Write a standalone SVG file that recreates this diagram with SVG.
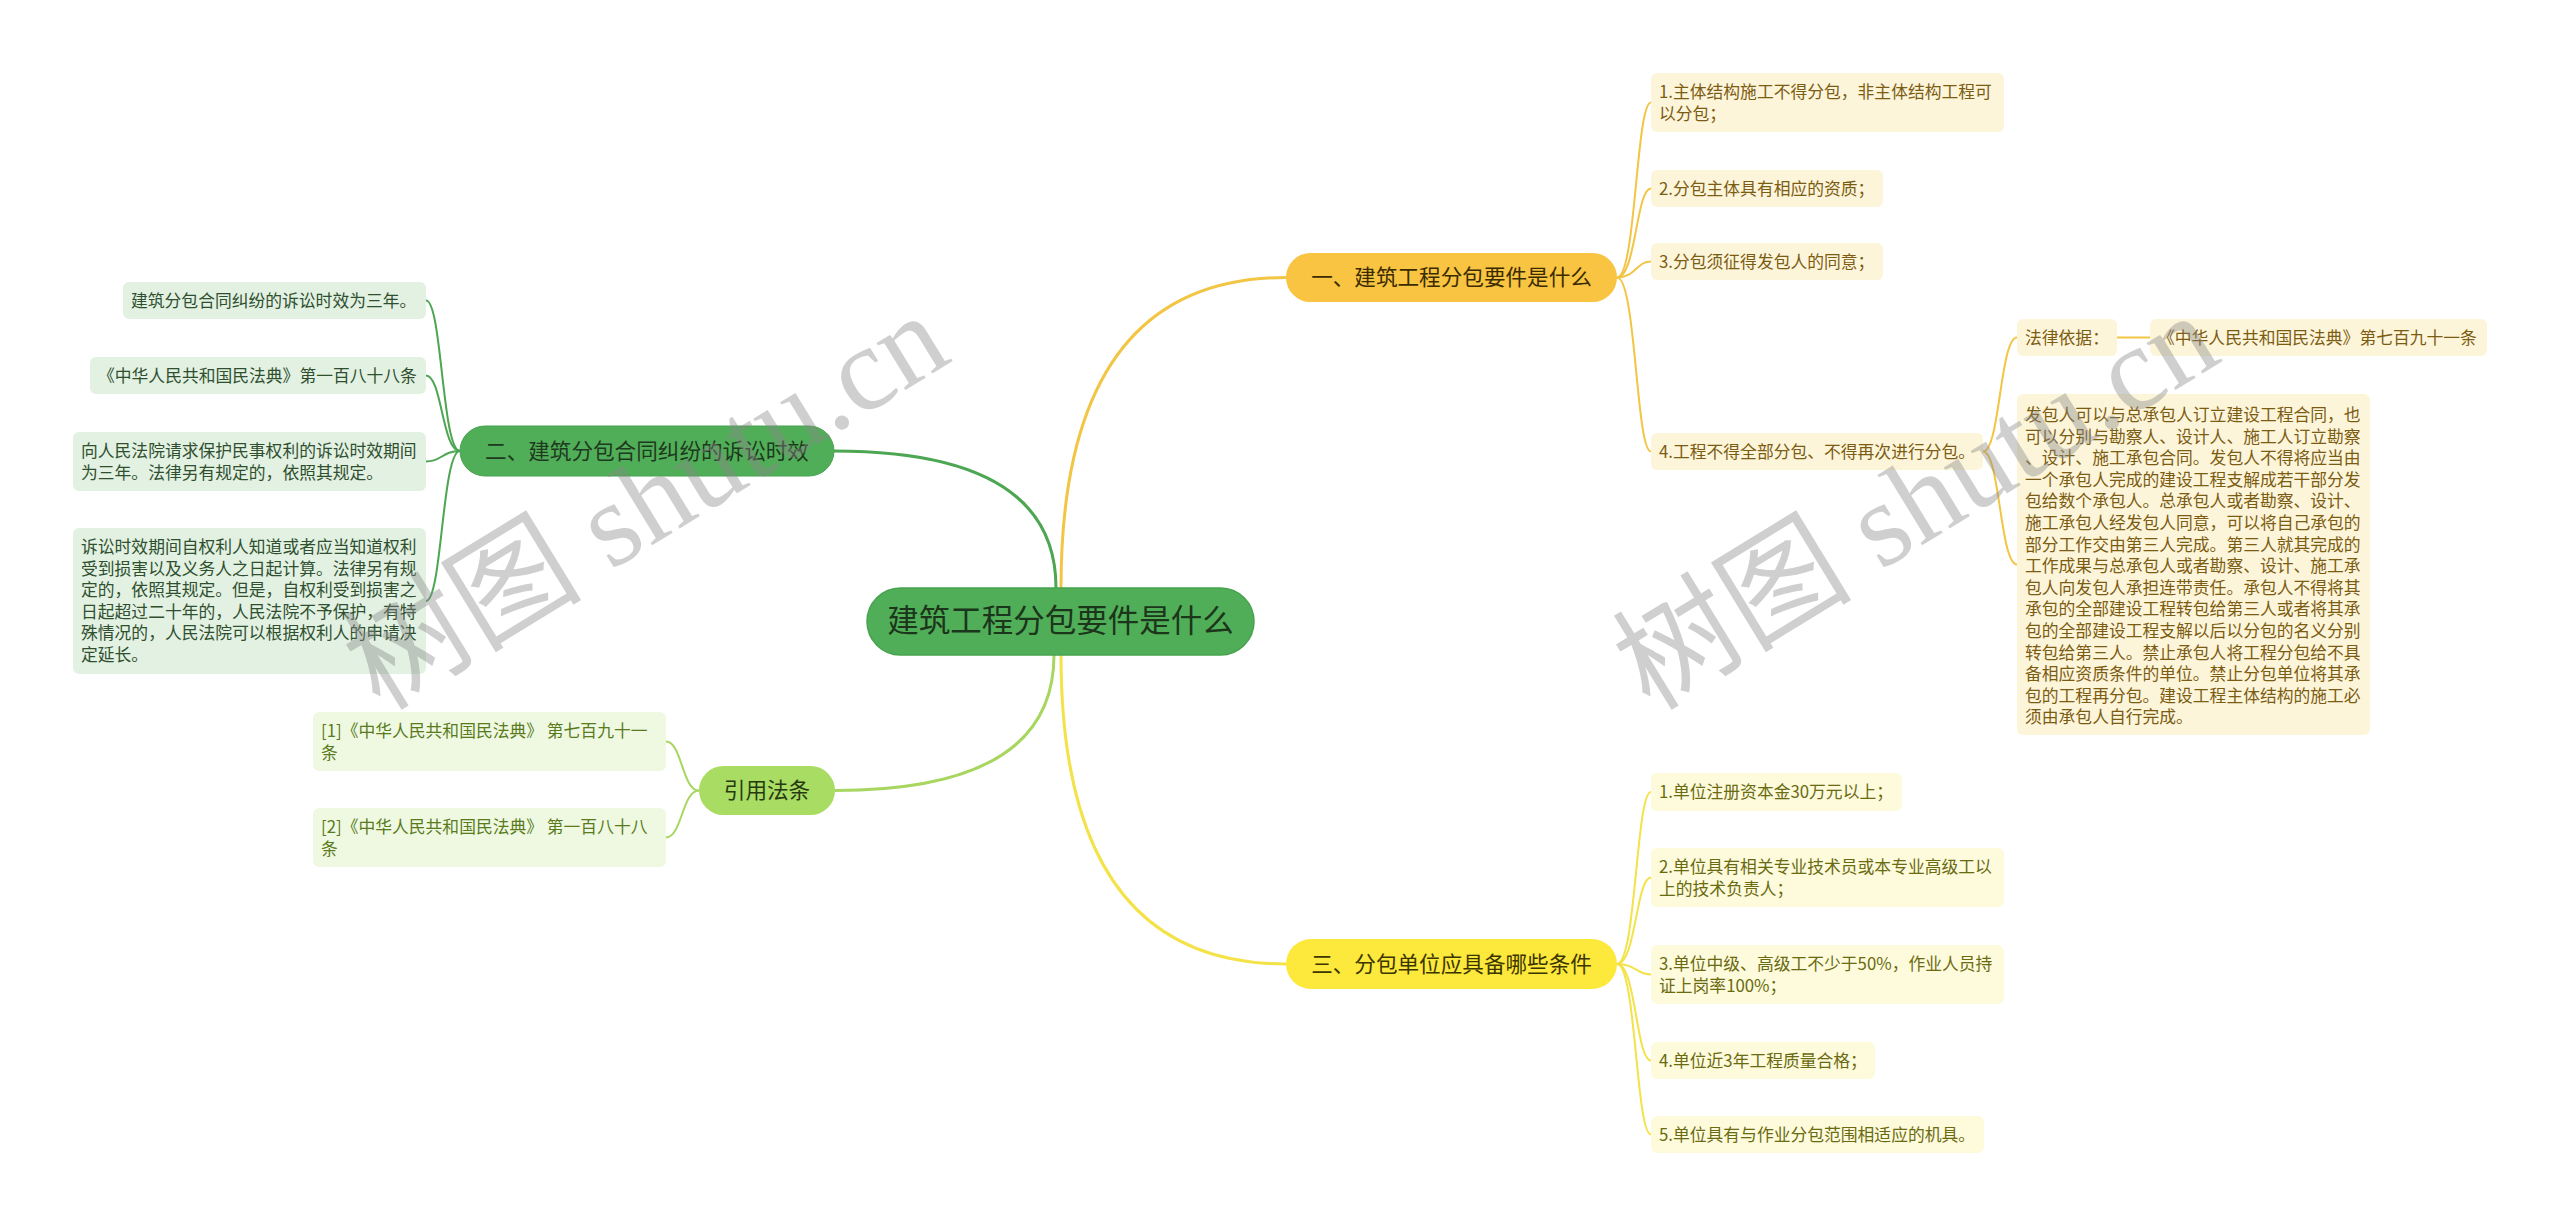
<svg xmlns="http://www.w3.org/2000/svg" width="2560" height="1227" viewBox="0 0 2560 1227">
<style>
text{font-family:"Noto Sans CJK SC","Liberation Sans",sans-serif;}
.t{font-size:16.8px;}
.n{font-size:21.6px;text-anchor:middle;}
.c{fill:none;stroke-width:2;}
.m{fill:none;stroke-width:3;}
.gold{stroke:#f2c545;} .yel{stroke:#f3e248;} .grn{stroke:#4ca652;} .lime{stroke:#a8d660;}
.bg{fill:#fdf5da;} .by{fill:#fdfbdc;} .bgr{fill:#e2f1e2;} .bl{fill:#eff9e1;}
.tg{fill:#7b5c12;} .ty{fill:#6a6a10;} .tgr{fill:#2f4f2f;} .tl{fill:#5a7b1d;}
.wm{font-family:"Liberation Serif","Noto Sans CJK SC",serif;font-size:120px;fill:#888;opacity:0.4;}
</style>
<rect width="2560" height="1227" fill="#ffffff"/>
<g id="connectors">
<path class="m gold" d="M1061 588 Q1061 277.5 1286 277.5"/>
<path class="m grn" d="M1056 588 Q1056 451 834 451"/>
<path class="m lime" d="M1054 655 Q1054 790.5 835 790.5"/>
<path class="m yel" d="M1061 655 Q1061 964 1286 964"/>
<path class="c gold" d="M1617 277.5 C1636 277.5 1636 102.5 1651 102.5"/>
<path class="c gold" d="M1617 277.5 C1636 277.5 1636 188.5 1651 188.5"/>
<path class="c gold" d="M1617 277.5 C1636 277.5 1636 261.5 1651 261.5"/>
<path class="c gold" d="M1617 277.5 C1636 277.5 1636 451.5 1651 451.5"/>
<path class="c gold" d="M1983 451.5 C2000 451.5 2000 337.5 2017 337.5"/>
<path class="c gold" d="M1983 451.5 C2000 451.5 2000 564.5 2017 564.5"/>
<path class="c gold" d="M2117 337.5 L2150 337.5"/>
<path class="c yel" d="M1617 964 C1636 964 1636 792 1651 792"/>
<path class="c yel" d="M1617 964 C1636 964 1636 877.5 1651 877.5"/>
<path class="c yel" d="M1617 964 C1636 964 1636 974.5 1651 974.5"/>
<path class="c yel" d="M1617 964 C1636 964 1636 1060.5 1651 1060.5"/>
<path class="c yel" d="M1617 964 C1636 964 1636 1134.5 1651 1134.5"/>
<path class="c grn" d="M460 451 C442 451 442 300.5 426 300.5"/>
<path class="c grn" d="M460 451 C442 451 442 375.5 426 375.5"/>
<path class="c grn" d="M460 451 C442 451 442 461.5 426 461.5"/>
<path class="c grn" d="M460 451 C442 451 442 601 426 601"/>
<path class="c lime" d="M699 790.5 C682 790.5 682 741.5 666 741.5"/>
<path class="c lime" d="M699 790.5 C682 790.5 682 837.5 666 837.5"/>
</g>
<g id="root">
<rect x="867" y="588" width="387" height="67" rx="33.5" fill="#51ae58" stroke="#47a24e" stroke-width="1.5"/>
<text x="1060.5" y="632" font-size="31.5" text-anchor="middle" fill="#1b361b">建筑工程分包要件是什么</text>
</g>
<g id="b1">
<rect x="1286" y="253" width="331" height="49" rx="24.5" fill="#f8c441"/>
<text class="n" x="1451.5" y="285" fill="#3b2c00">一、建筑工程分包要件是什么</text>
</g>
<g id="b1c1"><rect class="bg" x="1651" y="73" width="353" height="59" rx="6"/>
<text class="t tg" x="1659" y="98">1.主体结构施工不得分包，非主体结构工程可</text>
<text class="t tg" x="1659" y="119.6">以分包；</text></g>
<g id="b1c2"><rect class="bg" x="1651" y="170" width="232" height="37" rx="6"/>
<text class="t tg" x="1659" y="194.5">2.分包主体具有相应的资质；</text></g>
<g id="b1c3"><rect class="bg" x="1651" y="243" width="232" height="37" rx="6"/>
<text class="t tg" x="1659" y="267.5">3.分包须征得发包人的同意；</text></g>
<g id="b1c4"><rect class="bg" x="1651" y="433" width="332" height="37" rx="6"/>
<text class="t tg" x="1659" y="457.5">4.工程不得全部分包、不得再次进行分包。</text></g>
<g id="b1c4a"><rect class="bg" x="2017" y="319" width="100" height="37" rx="6"/>
<text class="t tg" x="2025" y="343.5">法律依据：</text></g>
<g id="b1c4a1"><rect class="bg" x="2150" y="319" width="337" height="37" rx="6"/>
<text class="t tg" x="2158" y="343.5">《中华人民共和国民法典》第七百九十一条</text></g>
<g id="b1c4b"><rect class="bg" x="2017" y="394" width="353" height="341" rx="6"/>
<text class="t tg" x="2025" y="421">
<tspan x="2025" y="421">发包人可以与总承包人订立建设工程合同，也</tspan>
<tspan x="2025" y="442.6">可以分别与勘察人、设计人、施工人订立勘察</tspan>
<tspan x="2025" y="464.2">、设计、施工承包合同。发包人不得将应当由</tspan>
<tspan x="2025" y="485.8">一个承包人完成的建设工程支解成若干部分发</tspan>
<tspan x="2025" y="507.4">包给数个承包人。总承包人或者勘察、设计、</tspan>
<tspan x="2025" y="529">施工承包人经发包人同意，可以将自己承包的</tspan>
<tspan x="2025" y="550.6">部分工作交由第三人完成。第三人就其完成的</tspan>
<tspan x="2025" y="572.2">工作成果与总承包人或者勘察、设计、施工承</tspan>
<tspan x="2025" y="593.8">包人向发包人承担连带责任。承包人不得将其</tspan>
<tspan x="2025" y="615.4">承包的全部建设工程转包给第三人或者将其承</tspan>
<tspan x="2025" y="637">包的全部建设工程支解以后以分包的名义分别</tspan>
<tspan x="2025" y="658.6">转包给第三人。禁止承包人将工程分包给不具</tspan>
<tspan x="2025" y="680.2">备相应资质条件的单位。禁止分包单位将其承</tspan>
<tspan x="2025" y="701.8">包的工程再分包。建设工程主体结构的施工必</tspan>
<tspan x="2025" y="723.4">须由承包人自行完成。</tspan>
</text></g>
<g id="b3">
<rect x="1286" y="939" width="331" height="50" rx="25" fill="#fde83c"/>
<text class="n" x="1451.5" y="971.5" fill="#3b3600">三、分包单位应具备哪些条件</text>
</g>
<g id="b3c1"><rect class="by" x="1651" y="773" width="251" height="38" rx="6"/>
<text class="t ty" x="1659" y="798">1.单位注册资本金30万元以上；</text></g>
<g id="b3c2"><rect class="by" x="1651" y="848" width="353" height="59" rx="6"/>
<text class="t ty" x="1659" y="873">2.单位具有相关专业技术员或本专业高级工以</text>
<text class="t ty" x="1659" y="894.6">上的技术负责人；</text></g>
<g id="b3c3"><rect class="by" x="1651" y="945" width="353" height="59" rx="6"/>
<text class="t ty" x="1659" y="970">3.单位中级、高级工不少于50%，作业人员持</text>
<text class="t ty" x="1659" y="991.6">证上岗率100%；</text></g>
<g id="b3c4"><rect class="by" x="1651" y="1042" width="224" height="37" rx="6"/>
<text class="t ty" x="1659" y="1066.5">4.单位近3年工程质量合格；</text></g>
<g id="b3c5"><rect class="by" x="1651" y="1116" width="333" height="37" rx="6"/>
<text class="t ty" x="1659" y="1140.5">5.单位具有与作业分包范围相适应的机具。</text></g>
<g id="b2">
<rect x="460" y="426" width="374" height="50" rx="25" fill="#51ae58" stroke="#47a24e" stroke-width="1"/>
<text class="n" x="647" y="458.5" fill="#1e3a1e">二、建筑分包合同纠纷的诉讼时效</text>
</g>
<g id="b2c1"><rect class="bgr" x="123" y="282" width="303" height="37" rx="6"/>
<text class="t tgr" x="131" y="306.5">建筑分包合同纠纷的诉讼时效为三年。</text></g>
<g id="b2c2"><rect class="bgr" x="90" y="357" width="336" height="37" rx="6"/>
<text class="t tgr" x="98" y="381.5">《中华人民共和国民法典》第一百八十八条</text></g>
<g id="b2c3"><rect class="bgr" x="73" y="432" width="353" height="59" rx="6"/>
<text class="t tgr" x="81" y="457">向人民法院请求保护民事权利的诉讼时效期间</text>
<text class="t tgr" x="81" y="478.6">为三年。法律另有规定的，依照其规定。</text></g>
<g id="b2c4"><rect class="bgr" x="73" y="528" width="353" height="146" rx="6"/>
<text class="t tgr" x="81" y="553">
<tspan x="81" y="553">诉讼时效期间自权利人知道或者应当知道权利</tspan>
<tspan x="81" y="574.6">受到损害以及义务人之日起计算。法律另有规</tspan>
<tspan x="81" y="596.2">定的，依照其规定。但是，自权利受到损害之</tspan>
<tspan x="81" y="617.8">日起超过二十年的，人民法院不予保护，有特</tspan>
<tspan x="81" y="639.4">殊情况的，人民法院可以根据权利人的申请决</tspan>
<tspan x="81" y="661">定延长。</tspan>
</text></g>
<g id="b4">
<rect x="699" y="766" width="136" height="49" rx="24.5" fill="#a9dc62"/>
<text class="n" x="767" y="798" fill="#263a10">引用法条</text>
</g>
<g id="b4c1"><rect class="bl" x="313" y="712" width="353" height="59" rx="6"/>
<text class="t tl" x="321" y="737">[1]《中华人民共和国民法典》 第七百九十一</text>
<text class="t tl" x="321" y="758.6">条</text></g>
<g id="b4c2"><rect class="bl" x="313" y="808" width="353" height="59" rx="6"/>
<text class="t tl" x="321" y="833">[2]《中华人民共和国民法典》 第一百八十八</text>
<text class="t tl" x="321" y="854.6">条</text></g>
<text class="wm" transform="translate(380 712) rotate(-31.5)">树图 shutu.cn</text>
<text class="wm" transform="translate(1650 712) rotate(-31.5)">树图 shutu.cn</text>
</svg>
